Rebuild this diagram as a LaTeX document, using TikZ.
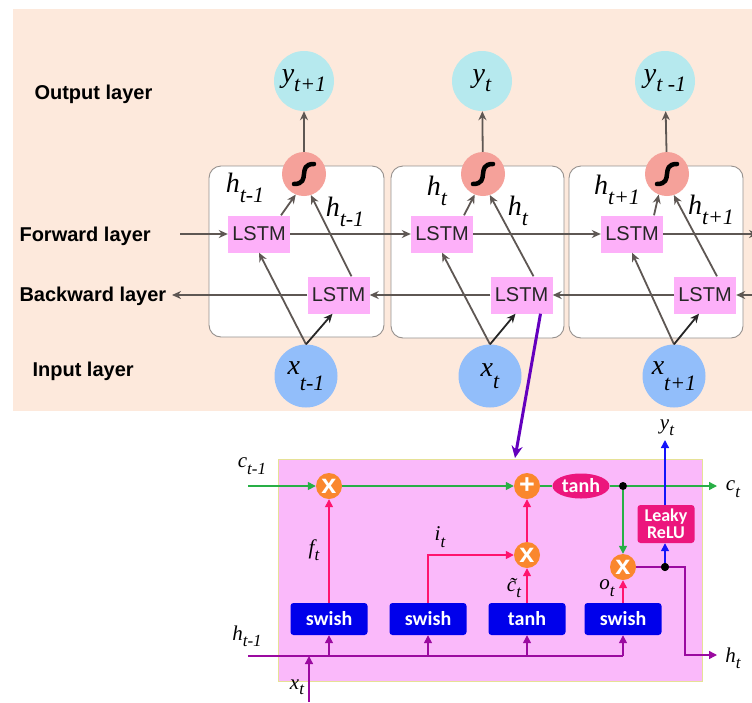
\documentclass[tikz,border=0pt]{standalone}
\usepackage{fontspec}
\setmainfont{Liberation Sans}
\newfontfamily\serifit{Liberation Serif}
\newfontfamily\carl{Carlito}
\usetikzlibrary{arrows.meta,shapes.geometric}
\definecolor{peach}{RGB}{253,233,220}
\definecolor{tgray}{RGB}{94,87,83}
\definecolor{cellgray}{RGB}{150,145,142}
\definecolor{lstmpink}{RGB}{253,176,249}
\definecolor{ycyan}{RGB}{182,233,238}
\definecolor{xblue}{RGB}{146,190,250}
\definecolor{sigred}{RGB}{245,161,154}
\definecolor{cellfill}{RGB}{250,185,250}
\definecolor{cellborder}{RGB}{230,225,150}
\definecolor{orng}{RGB}{250,135,45}
\definecolor{hotpink}{RGB}{236,22,125}
\definecolor{lgreen}{RGB}{40,175,70}
\definecolor{lpink}{RGB}{255,20,110}
\definecolor{lpurp}{RGB}{155,10,160}
\definecolor{lblue}{RGB}{20,20,250}
\definecolor{boxblue}{RGB}{0,0,235}
\definecolor{arrpurp}{RGB}{100,0,190}
\newcommand\lab[3][-0.33em]{#2\raisebox{#1}{\fontsize{22}{22}\selectfont #3}}
\newcommand\slab[3][-0.3em]{#2\raisebox{#1}{\fontsize{17}{17}\selectfont #3}}
\begin{document}
\begin{tikzpicture}[x=1pt,y=-1pt,
  lay/.style={anchor=west, font=\bfseries\fontsize{20}{20}\selectfont},
  cellbox/.style={draw=cellgray, fill=white, line width=0.9pt, rounded corners=12pt},
  lstm/.style={fill=lstmpink, minimum width=62pt, minimum height=37pt, inner sep=0pt, font=\fontsize{20}{20}\selectfont, text=black!85},
  outc/.style={circle, fill=ycyan, minimum size=60pt, inner sep=0pt},
  inc/.style={circle, fill=xblue, minimum size=63pt, inner sep=0pt},
  sig/.style={circle, fill=sigred, minimum size=44pt, inner sep=0pt},
  mlab/.style={font=\serifit\itshape\fontsize{28}{28}\selectfont, inner sep=0pt},
  blab/.style={font=\serifit\itshape\fontsize{21}{21}\selectfont, inner sep=0pt},
  garr/.style={draw=tgray, line width=1.8pt, -{Stealth[length=9pt,width=8pt]}},
  darr/.style={draw=black!85, line width=1.8pt, -{Stealth[length=9pt,width=8pt]}},
  mult/.style={circle, fill=orng, minimum size=26pt, inner sep=0pt, text=white, font=\bfseries\fontsize{27}{27}\selectfont},
  tanhe/.style={ellipse, fill=hotpink, minimum width=57pt, minimum height=25pt, inner sep=0pt, text=white, font=\carl\bfseries\fontsize{20}{20}\selectfont},
  dotn/.style={circle, fill=black, minimum size=8pt, inner sep=0pt},
  bbox/.style={fill=boxblue, rounded corners=3pt, minimum width=77pt, minimum height=32pt, inner sep=0pt, text=white, font=\carl\bfseries\fontsize{20}{20}\selectfont},
  leaky/.style={fill=hotpink, rounded corners=3pt, minimum width=57pt, minimum height=38pt, inner sep=0pt, text=white, align=center, font=\carl\bfseries\fontsize{18}{17}\selectfont},
  greenl/.style={draw=lgreen, line width=1.4pt},
  greena/.style={greenl, -{Triangle[length=8pt,width=8pt]}},
  pinka/.style={draw=lpink, line width=1.4pt, -{Triangle[length=8pt,width=8pt]}},
  purpl/.style={draw=lpurp, line width=1.4pt},
  purpa/.style={purpl, -{Triangle[length=8pt,width=8pt]}},
  bluea/.style={draw=lblue, line width=1.4pt, -{Triangle[length=8pt,width=8pt]}},
  sigline/.style={line width=4.5pt, line cap=round}
]
\useasboundingbox (0,0) rectangle (752,702);
\fill[peach] (13,9) rectangle (752,411);
% cells
\draw[cellbox] (209,166) rectangle (384,337);
\draw[cellbox] (391,166) rectangle (564,338);
\draw[cellbox] (569,166) rectangle (743,338);
% layer labels
\node[lay] (lo) at (31,94) {Output layer};
\node[lay] (lf) at (16,236) {Forward layer};
\node[lay] (lb) at (16,296) {Backward layer};
\node[lay] (li) at (29,371) {Input layer};
% output circles
\node[outc, mlab] (y1) at (304,81) {\lab{y}{t+1}};
\node[outc, mlab] (y2) at (482,81) {\lab{y}{t}};
\node[outc, mlab] (y3) at (665,81) {\lab{y}{t -1}};
% sigmoid circles
\node[sig] (s1) at (304,174) {};
\node[sig] (s2) at (483,174) {};
\node[sig] (s3) at (667,174) {};
\foreach \s in {s1,s2,s3}{
  \draw[sigline] ([shift={(10,-10)}]\s.center) .. controls ([shift={(-8,-10)}]\s.center) and ([shift={(8,10)}]\s.center) .. ([shift={(-10,10)}]\s.center);
}
% LSTMs
\node[lstm] (f1) at (259,234) {LSTM};
\node[lstm] (f2) at (442,234) {LSTM};
\node[lstm] (f3) at (632,234) {LSTM};
\node[lstm] (b1) at (338.5,295) {LSTM};
\node[lstm] (b2) at (521.5,295) {LSTM};
\node[lstm] (b3) at (705,295) {LSTM};
% inputs
\node[inc, mlab] (x1) at (306,376) {\lab[-0.55em]{x}{t-1}};
\node[inc, mlab] (x2) at (490,376) {\lab[-0.45em]{x}{t}};
\node[inc, mlab] (x3) at (674,376) {\lab[-0.55em]{x}{t+1}};
% h labels
\node[mlab] (h1a) at (245,188) {\lab{h}{t-1}};
\node[mlab] (h1b) at (345,212) {\lab{h}{t-1}};
\node[mlab] (h2a) at (437,191) {\lab{h}{t}};
\node[mlab] (h2b) at (518,211) {\lab{h}{t}};
\node[mlab] (h3a) at (617,190) {\lab{h}{t+1}};
\node[mlab] (h3b) at (711,210) {\lab{h}{t+1}};
% forward arrows
\coordinate (fl) at (180,234);
\coordinate (fr) at (758,234);
\draw[garr] (fl) -- (f1.west);
\draw[garr] (f1) -- (f2);
\draw[garr] (f2) -- (f3);
\draw[garr] (f3) -- (fr);
% backward arrows
\coordinate (br) at (752,295);
\coordinate (bl) at (172,295);
\draw[garr] (br) -- (b3.east);
\draw[garr] (b3) -- (b2);
\draw[garr] (b2) -- (b1);
\draw[garr] (b1) -- (bl);
% input to lstm
\foreach \x/\f/\b in {x1/f1/b1, x2/f2/b2, x3/f3/b3}{
  \draw[garr] (\x.north) -- (\f.south);
  \draw[darr] (\x.north) -- ([xshift=-6pt]\b.south);
}
\draw[garr] ([xshift=22pt]f1.north) -- (s1.-112);
\draw[garr] ([xshift=22pt]f2.north) -- (s2.-112);
\draw[garr] ([xshift=22pt]f3.north) -- (s3.-112);
\draw[garr] ([xshift=13pt]b1.north) -- (s1.-72);
\draw[garr] ([xshift=12pt]b2.north) -- (s2.-72);
\draw[garr] ([xshift=12pt]b3.north) -- (s3.-72);
\draw[garr] (s1) -- (y1);
\draw[garr] (s2) -- (y2);
\draw[garr] (s3) -- (y3);
% purple pointer
\coordinate (ptip) at (515,458);
\draw[draw=arrpurp, line width=3pt, -{Stealth[length=12pt,width=11pt]}] ([xshift=19pt]b2.south) -- (ptip);
% ===== LSTM cell detail =====
\draw[fill=cellfill, draw=cellborder, line width=0.8pt] (278,459) rectangle (702,681);
\node[mult] (m1) at (329,486) {x};
\node[mult] (pl) at (527,486) {+};
\node[tanhe] (th) at (581,486) {tanh};
\node[dotn] (d1) at (623,486) {};
\node[mult] (m2) at (527,555) {x};
\node[mult] (m3) at (623,567) {x};
\node[dotn] (d2) at (665,567) {};
\node[leaky] (lk) at (666,524) {Leaky\\ReLU};
\node[bbox] (sw1) at (329,619) {swish};
\node[bbox] (sw2) at (428,619) {swish};
\node[bbox] (tb) at (527,619) {tanh};
\node[bbox] (sw4) at (623,619) {swish};
\coordinate (cin) at (248,486);
\coordinate (cout) at (717,486);
\coordinate (yt) at (665,440);
\coordinate (hc) at (685,567);
\coordinate (hout) at (717,655);
\coordinate (hin) at (248,656);
\coordinate (hend) at (623,656);
\coordinate (xin) at (309,702);
% cell state
\draw[greena] (cin) -- (m1);
\draw[greena] (m1) -- (pl);
\draw[greenl] (pl) -- (th);
\draw[greenl] (th) -- (d1);
\draw[greena] (d1) -- (cout);
\draw[greena] (d1) -- (m3);
% gates
\draw[pinka] (sw1) -- (m1);
\draw[pinka] (sw2.north) |- (m2.west);
\draw[pinka] (tb) -- (m2);
\draw[pinka] (m2) -- (pl);
\draw[pinka] (sw4) -- (m3);
% output
\draw[purpa] (m3.east) -- (hc) |- (hout);
\draw[bluea] (d2) -- (d2 |- lk.south);
\draw[bluea] (d2 |- lk.north) -- (yt);
\node[dotn] (d2b) at (d2) {};
% input bus
\draw[purpl] (hin) -- (hend);
\draw[purpa] (sw1.south |- hin) -- (sw1.south);
\draw[purpa] (sw2.south |- hin) -- (sw2.south);
\draw[purpa] (tb.south |- hin) -- (tb.south);
\draw[purpa] (sw4.south |- hin) -- (sw4.south);
\draw[purpa] (xin) -- (xin |- hin);
% labels
\node[blab] (tc1) at (252,466) {\slab{c}{t-1}};
\node[blab] (tct) at (733,489) {\slab{c}{t}};
\node[blab] (tft) at (314,550) {\slab{f}{t}};
\node[blab] (tit) at (440,537) {\slab{i}{t}};
\node[blab] (tcc) at (514,588) {\slab{\~{c}}{t}};
\node[blab] (tot) at (607,588) {\slab{o}{t}};
\node[blab] (tyt) at (667,428) {\slab{y}{t}};
\node[blab] (tht) at (733,658) {\slab{h}{t}};
\node[blab] (th1) at (247,636) {\slab{h}{t-1}};
\node[blab] (txt) at (297,687) {\slab[-0.25em]{x}{t}};
\end{tikzpicture}
\end{document}
